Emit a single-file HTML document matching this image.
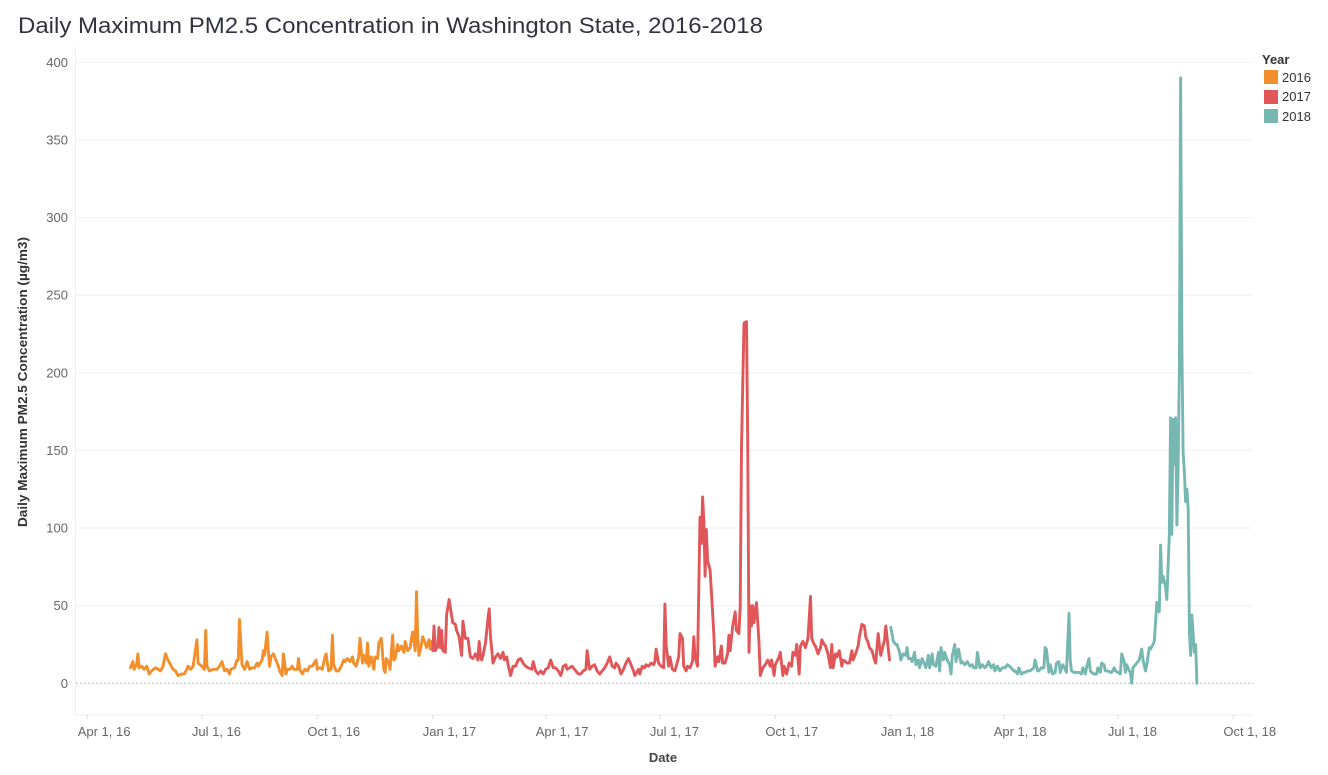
<!DOCTYPE html>
<html><head><meta charset="utf-8"><style>
html,body{margin:0;padding:0;background:#fff;}
svg{display:block;font-family:"Liberation Sans","DejaVu Sans",sans-serif;}
</style></head><body>
<svg id="chart" width="1328" height="775" viewBox="0 0 1328 775" xmlns="http://www.w3.org/2000/svg">
<text x="18" y="33" font-size="22" fill="#333340" textLength="745" lengthAdjust="spacingAndGlyphs">Daily Maximum PM2.5 Concentration in Washington State, 2016-2018</text>
<g id="grid"></g>
<g id="yaxis"></g>
<g id="xaxis"></g>
<text transform="translate(27,382) rotate(-90)" text-anchor="middle" font-size="12.5" font-weight="bold" fill="#333" textLength="290" lengthAdjust="spacingAndGlyphs">Daily Maximum PM2.5 Concentration (µg/m3)</text>
<text x="663" y="762" text-anchor="middle" font-size="13" font-weight="bold" fill="#444">Date</text>
<g id="series"></g>
<g>
<text x="1262" y="64" font-size="13" font-weight="bold" fill="#333">Year</text>
<rect x="1264" y="70" width="14" height="14" fill="#F28E2B"/>
<text x="1282" y="82" font-size="13" fill="#333">2016</text>
<rect x="1264" y="90" width="14" height="14" fill="#E15759"/>
<text x="1282" y="101" font-size="13" fill="#333">2017</text>
<rect x="1264" y="109" width="14" height="14" fill="#76B7B2"/>
<text x="1282" y="121" font-size="13" fill="#333">2018</text>
</g>
</svg>
<script>
// days counted from Apr 1, 2016
const days2016=[34,36,37,39,40,41,43,45,47,49,51,54,56,58,60,62,64,66,68,70,72,75,77,79,80,82,84,87,88,91,93,94,95,97,100,103,105,107,109,111,113,114,117,119,120,121,123,125,127,129,131,133,135,136,139,140,141,143,144,145,146,148,150,152,153,155,156,158,159,161,163,164,167,168,169,171,173,175,177,179,182,183,185,187,189,190,192,194,195,196,198,200,202,204,205,207,209,211,212,214,216,217,219,220,222,223,224,226,228,229,231,232,234,236,237,238,240,241,243,244,245,247,248,250,252,253,255,257,258,259,261,262,263,264,266,267,269,270,272,273,274];
const vals2016=[10,14,9,12,19,10,11,9,11,6,8,10,9,8,11,19,15,12,9,8,5,6,6,9,11,9,11,28,13,11,9,34,11,8,9,9,11,14,8,9,6,9,10,15,15,41,12,9,14,9,10,10,13,11,15,21,18,33,20,11,17,19,15,11,8,5,19,6,9,9,11,9,9,16,9,6,9,8,11,11,15,9,10,9,17,19,8,9,31,12,8,8,11,15,14,16,14,17,13,11,17,29,13,18,13,26,11,17,9,17,16,26,29,9,7,16,13,9,31,15,16,25,21,24,20,27,21,23,29,33,21,59,30,18,25,30,26,23,28,22,27];
const days2017=[275,276,277,279,280,281,282,283,285,286,288,289,291,293,294,296,298,299,301,303,305,307,309,311,312,313,314,315,317,319,320,321,323,325,327,329,331,332,334,335,337,339,341,343,345,347,349,351,354,355,357,359,361,363,365,367,369,371,373,375,377,379,381,382,384,386,389,391,393,395,397,398,400,402,404,406,408,410,412,414,416,418,420,421,423,425,427,429,431,433,435,436,439,440,442,444,445,447,449,451,452,453,455,457,459,460,461,463,464,466,468,469,471,472,474,475,477,478,480,482,483,484,486,488,489,490,491,492,493,494,496,497,499,500,502,503,505,506,508,510,511,512,514,516,517,519,520,521,523,525,526,527,528,529,530,531,533,535,536,538,540,542,544,545,547,548,551,552,554,555,557,559,561,562,564,565,567,568,570,572,574,576,577,579,580,582,584,585,587,588,590,592,593,594,596,597,599,601,602,604,605,607,609,610,612,614,615,617,619,620,622,623,625,627,628,630,631,632,635,636,637,639];
const vals2017=[21,37,21,24,36,23,34,21,20,44,54,49,39,38,34,30,18,40,29,29,17,16,19,15,27,17,15,18,26,42,48,30,13,17,19,16,20,15,17,12,5,11,11,15,16,13,11,10,9,14,8,6,8,6,9,10,15,10,10,8,5,11,12,9,10,11,8,6,6,8,9,21,9,11,12,8,6,8,10,13,17,11,10,13,11,6,9,13,16,12,8,5,9,6,11,10,12,11,13,12,14,22,13,11,10,51,24,11,17,9,8,11,17,32,29,11,8,11,10,14,30,17,11,107,90,120,105,69,99,79,73,60,32,11,17,14,24,13,13,19,31,21,37,46,34,32,49,152,232,233,157,20,50,37,50,39,52,26,5,10,12,15,11,15,5,12,17,20,5,11,6,13,11,20,18,25,6,24,27,23,29,56,29,25,24,19,23,28,25,24,19,10,25,10,19,17,21,11,15,14,13,13,21,15,19,24,30,38,37,30,26,23,21,15,13,32,24,18,28,37,30,15];
const days2018=[640,642,644,645,647,648,650,652,653,654,656,657,659,660,662,663,665,666,668,670,671,673,674,676,678,679,680,682,683,685,687,688,689,691,692,694,696,697,699,701,703,705,706,708,709,711,713,715,717,718,720,722,723,725,727,729,731,733,736,738,739,741,742,744,746,747,749,751,754,755,757,758,760,762,763,764,766,767,769,771,772,774,775,777,779,780,782,783,784,786,788,790,792,793,795,796,798,799,800,802,804,805,807,808,810,811,813,815,816,818,819,821,823,824,826,827,828,830,831,832,833,835,836,838,840,841,843,844,846,847,849,850,852,853,854,855,856,857,859,860,861,862,863,864,865,866,867,868,869,870,871,872,873,874,875,876,877,878,879,880,881,882,883,884];
const vals2018=[36,27,25,25,20,15,19,18,23,16,16,14,20,12,15,10,16,14,10,18,10,19,12,11,20,8,23,15,20,15,12,6,18,25,14,22,13,14,12,14,11,12,10,10,20,10,12,10,12,14,10,12,8,11,8,10,10,12,10,8,8,6,10,6,7,7,8,8,10,15,8,8,10,10,23,22,7,12,6,7,13,14,7,12,9,7,45,15,8,7,7,7,6,10,6,10,16,8,7,6,6,10,7,13,12,8,8,7,7,10,8,7,6,19,14,7,12,8,7,0,10,12,13,15,22,15,8,12,23,22,25,27,52,52,46,89,65,69,62,54,75,95,171,96,170,141,171,102,139,204,390,217,149,136,117,125,112,33,18,44,31,20,25,0];
const yTicks=[0,50,100,150,200,250,300,350,400];
const xTickLabels=["Apr 1, 16","Jul 1, 16","Oct 1, 16","Jan 1, 17","Apr 1, 17","Jul 1, 17","Oct 1, 17","Jan 1, 18","Apr 1, 18","Jul 1, 18","Oct 1, 18"];
const xTickDays=[0,91,183,275,365,456,548,640,730,821,913];
const seriesColors=["#F28E2B","#E15759","#76B7B2"];

const NS="http://www.w3.org/2000/svg";
function xs(d){return 87.7+1.2548*d;}
function ys(v){return 683.3-1.5525*v;}
function mk(tag,attrs,parent){const e=document.createElementNS(NS,tag);for(const k in attrs)e.setAttribute(k,attrs[k]);parent.appendChild(e);return e;}
const grid=document.getElementById('grid'),yax=document.getElementById('yaxis'),xax=document.getElementById('xaxis'),ser=document.getElementById('series');
let vl=mk('line',{x1:75.7,x2:75.7,y1:47,y2:715,stroke:'#eee','stroke-width':1},grid);


let bl=mk('line',{x1:75.7,x2:1253,y1:715,y2:715,stroke:'#eee','stroke-width':1},grid);


yTicks.forEach(t=>{
  const y=ys(t);
  if(t===0){
    const z=mk('line',{x1:76,x2:1253,y1:y,y2:y,stroke:'#bbb','stroke-width':1,'stroke-dasharray':'2,2'},grid);
    
    
  } else {
    const g=mk('line',{x1:76,x2:1253,y1:y,y2:y,stroke:'#efefef','stroke-width':1},grid);
    
    
  }
  const tx=mk('text',{x:68,y:y+4.5,'text-anchor':'end','font-size':13,fill:'#666'},yax);
  tx.textContent=t;
  
  
});
xTickDays.forEach((d,i)=>{
  const x=xs(d);
  const tk=mk('line',{x1:x,x2:x,y1:715,y2:719,stroke:'#ddd','stroke-width':1},xax);
  
  
  const tx=mk('text',{x:x-10,y:736,'font-size':13,fill:'#666'},xax);
  tx.textContent=xTickLabels[i];
  
  
});
[[days2016,vals2016],[days2017,vals2017],[days2018,vals2018]].forEach((s,i)=>{
  const pts=s[0].map((d,j)=>xs(d).toFixed(1)+','+ys(s[1][j]).toFixed(1)).join(' ');
  const p=mk('polyline',{points:pts,fill:'none',stroke:seriesColors[i],'stroke-width':2.9,'stroke-linejoin':'round','stroke-linecap':'round'},ser);
  
  
});
</script>
</body></html>
